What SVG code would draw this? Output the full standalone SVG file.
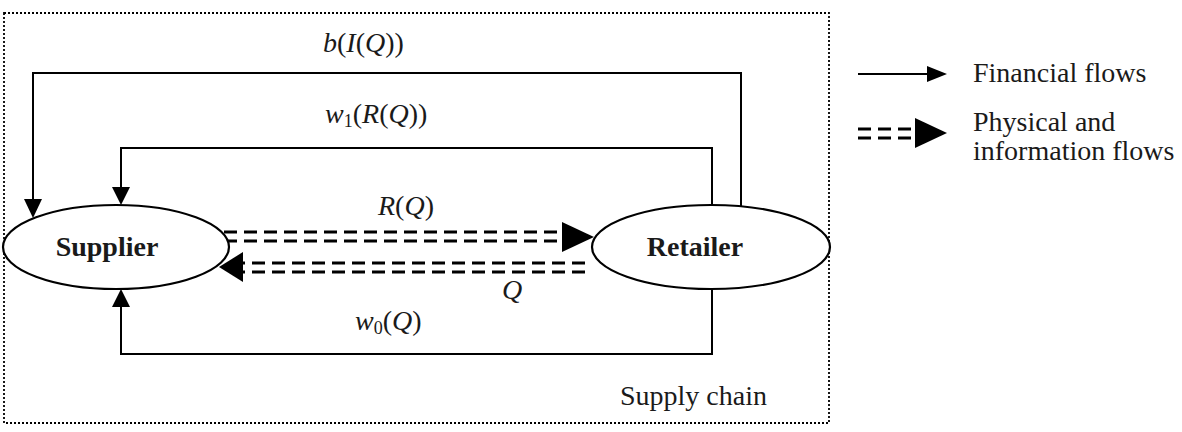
<svg xmlns="http://www.w3.org/2000/svg" width="1182" height="432" viewBox="0 0 1182 432">
<style>
text{font-family:"Liberation Serif","Times New Roman",serif;font-size:28px;fill:#1a1a1a}
.b{font-weight:bold}
.i{font-style:italic}
.sub{font-size:18px}
.ln{fill:none;stroke:#000;stroke-width:2}
.dd{fill:none;stroke:#000;stroke-width:3;stroke-dasharray:13 7}
.ah{fill:#000}
.node{fill:#fff;stroke:#000;stroke-width:2.2}
</style>
<rect x="4" y="13" width="825" height="410" fill="none" stroke="#000" stroke-width="1.8" stroke-dasharray="2 2"/>
<g id="connectors">
  <!-- b(I(Q)) -->
  <polyline class="ln" points="741,207 741,73 33,73 33,202"/>
  <polygon class="ah" points="24,199 42,199 33,218"/>
  <!-- w1(R(Q)) -->
  <polyline class="ln" points="712,205 712,148 121,148 121,189"/>
  <polygon class="ah" points="112,187 130,187 121,205"/>
  <!-- w0(Q) -->
  <polyline class="ln" points="712,289 712,354 121,354 121,306"/>
  <polygon class="ah" points="112,307 130,307 121,289"/>
  <!-- R(Q) -->
  <line class="dd" x1="224" y1="232" x2="562" y2="232"/>
  <line class="dd" x1="224" y1="241" x2="562" y2="241"/>
  <polygon class="ah" points="562,222 562,252 594,237"/>
  <!-- Q -->
  <line class="dd" x1="585" y1="263" x2="242" y2="263"/>
  <line class="dd" x1="585" y1="272" x2="242" y2="272"/>
  <polygon class="ah" points="243,252 243,282 219,267"/>
</g>
<g id="supplier">
  <ellipse class="node" cx="116" cy="247" rx="113" ry="42"/>
  <text class="b" x="107" y="256" text-anchor="middle">Supplier</text>
</g>
<g id="retailer">
  <ellipse class="node" cx="711" cy="247" rx="119" ry="42"/>
  <text class="b" x="695" y="256" text-anchor="middle">Retailer</text>
</g>
<g id="labels">
  <text x="323" y="52"><tspan class="i">b</tspan>(<tspan class="i">I</tspan>(<tspan class="i">Q</tspan>))</text>
  <text x="325" y="123"><tspan class="i">w</tspan><tspan class="sub" dy="4">1</tspan><tspan dy="-4">(</tspan><tspan class="i">R</tspan>(<tspan class="i">Q</tspan>))</text>
  <text x="378" y="215"><tspan class="i">R</tspan>(<tspan class="i">Q</tspan>)</text>
  <text class="i" x="502" y="299">Q</text>
  <text x="355" y="330"><tspan class="i">w</tspan><tspan class="sub" dy="4">0</tspan><tspan dy="-4">(</tspan><tspan class="i">Q</tspan>)</text>
  <text x="620" y="405">Supply chain</text>
</g>
<g id="legend">
  <line class="ln" x1="858" y1="74" x2="930" y2="74"/>
  <polygon class="ah" points="927,66 927,82 947,74"/>
  <text x="973" y="82">Financial flows</text>
  <line class="dd" x1="858" y1="129" x2="916" y2="129" stroke-dasharray="12 6"/>
  <line class="dd" x1="858" y1="138" x2="916" y2="138" stroke-dasharray="12 6"/>
  <polygon class="ah" points="915,118 915,148 947,133"/>
  <text x="973" y="131">Physical and</text>
  <text x="973" y="160">information flows</text>
</g>
</svg>
